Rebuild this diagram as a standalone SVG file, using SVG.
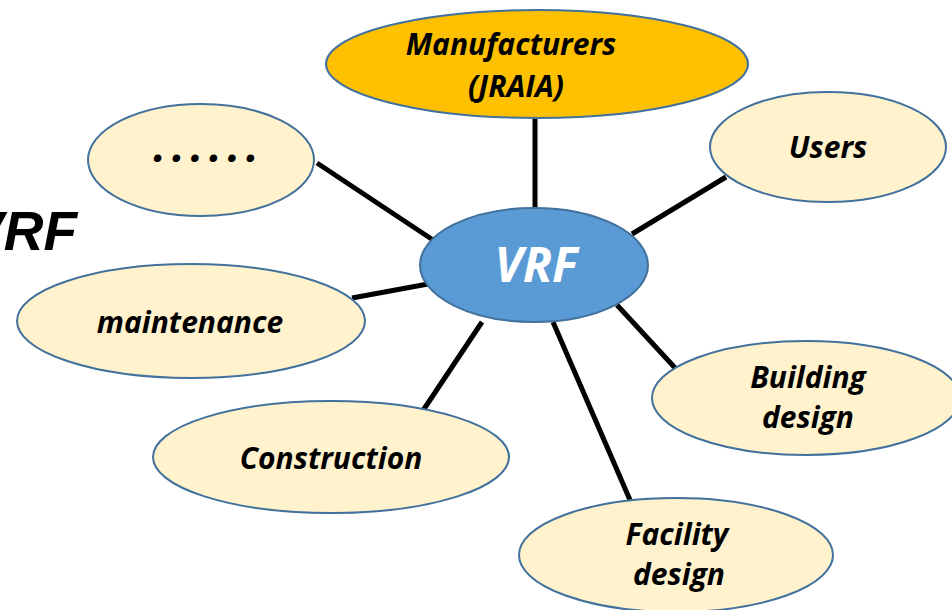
<svg xmlns="http://www.w3.org/2000/svg" width="952" height="610" viewBox="0 0 952 610">
<style>
.n{fill:#FFF2CC;stroke:#41719C;stroke-width:2}
.t{font-family:"Open Sans","DejaVu Sans",sans-serif;font-weight:bold;font-style:italic;font-size:30px;fill:#000;text-anchor:middle}
.c line{stroke:#000;stroke-width:5}
</style>
<rect width="952" height="610" fill="#fff"/>
<text x="-33" y="250" style="font-family:'Liberation Sans',Arial,sans-serif;font-weight:bold;font-style:italic;font-size:55px">VRF</text>
<g class="c" id="connectors">
<line x1="535" y1="118" x2="535" y2="208"/>
<line x1="317" y1="163" x2="433" y2="240"/>
<line x1="726" y1="177" x2="632" y2="234"/>
<line x1="352" y1="298" x2="428" y2="284"/>
<line x1="482" y1="322" x2="422" y2="412"/>
<line x1="553" y1="322" x2="630" y2="500"/>
<line x1="617" y1="305" x2="677" y2="370"/>
</g>
<g id="manufacturers">
<ellipse cx="537" cy="64" rx="211" ry="54" fill="#FFC000" stroke="#41719C" stroke-width="2"/>
<text class="t" x="511" y="55">Manufacturers</text>
<text class="t" x="516" y="97">(JRAIA)</text>
</g>
<g id="etc">
<ellipse class="n" cx="201" cy="160" rx="113" ry="56"/>
<text class="t" x="209" y="162" style="font-size:44px;letter-spacing:6px">......</text>
</g>
<g id="users">
<ellipse class="n" cx="828" cy="147" rx="118" ry="55"/>
<text class="t" x="828" y="158">Users</text>
</g>
<g id="vrf">
<ellipse cx="534" cy="265" rx="114" ry="57" fill="#5B9BD5" stroke="#41719C" stroke-width="2"/>
<text class="t" x="536" y="282" style="font-size:48px;fill:#fff">VRF</text>
</g>
<g id="maintenance">
<ellipse class="n" cx="191" cy="321" rx="174" ry="57"/>
<text class="t" x="190" y="333">maintenance</text>
</g>
<g id="construction">
<ellipse class="n" cx="331" cy="457" rx="178" ry="56"/>
<text class="t" x="331" y="469">Construction</text>
</g>
<g id="building">
<ellipse class="n" cx="806" cy="398" rx="154" ry="57"/>
<text class="t" x="808" y="388">Building</text>
<text class="t" x="808" y="428">design</text>
</g>
<g id="facility">
<ellipse class="n" cx="676" cy="555" rx="157" ry="57"/>
<text class="t" x="677" y="545">Facility</text>
<text class="t" x="679" y="585">design</text>
</g>
</svg>
